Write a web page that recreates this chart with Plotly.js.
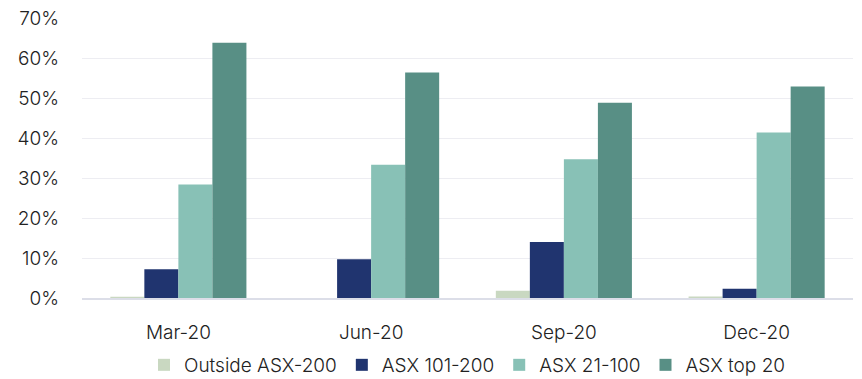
<!DOCTYPE html>
<html>
<head>
<meta charset="utf-8">
<script src="https://cdn.plot.ly/plotly-3.0.1.min.js"></script>
<style>html,body{margin:0;padding:0;background:#fff;}#chart{width:862px;height:379px;}</style>
</head>
<body>
<div id="chart"></div>
<script>
var categories = ["Mar-20", "Jun-20", "Sep-20", "Dec-20"];
var seriesNames = ["Outside ASX-200", "ASX 101-200", "ASX 21-100", "ASX top 20"];
var outsideASX200 = [0.3, 0, 1.8, 0.4];
var asx101to200 = [7.2, 9.7, 14.0, 2.3];
var asx21to100 = [28.4, 33.3, 34.7, 41.4];
var asxTop20 = [63.8, 56.4, 48.8, 52.9];
var colors = ["#c9d8c1", "#20346f", "#88c1b6", "#588f85"];

var values = [outsideASX200, asx101to200, asx21to100, asxTop20];
var traces = values.map(function (v, i) {
  return {
    type: "bar",
    name: seriesNames[i],
    x: categories,
    y: v,
    marker: { color: colors[i], line: { width: 0 } },
    hoverinfo: "skip"
  };
});

var fontFam = "Inter, 'Noto Sans', sans-serif";
var layout = {
  width: 862,
  height: 379,
  margin: { l: 82, r: 9, t: 18, b: 81 },
  paper_bgcolor: "#ffffff",
  plot_bgcolor: "#ffffff",
  font: { family: fontFam, size: 19, color: "#222222", weight: 300 },
  barmode: "group",
  bargap: 0.294,
  bargroupgap: 0,
  showlegend: true,
  legend: {
    orientation: "h",
    x: 0.5,
    xanchor: "center",
    xref: "paper",
    yref: "container",
    y: 0.037,
    yanchor: "middle",
    font: { family: fontFam, size: 19, color: "#222222", weight: 300 },
    itemwidth: 30,
    traceorder: "normal"
  },
  xaxis: {
    type: "category",
    automargin: false,
    showgrid: false,
    showline: true,
    linecolor: "#dcdee8",
    linewidth: 2,
    ticks: "",
    ticklabelstandoff: 16,
    tickfont: { family: fontFam, size: 19, color: "#222222", weight: 300 },
    zeroline: false
  },
  yaxis: {
    automargin: false,
    range: [0, 70],
    dtick: 10,
    ticksuffix: "%",
    showgrid: true,
    gridcolor: "#ededf2",
    gridwidth: 1,
    zeroline: false,
    showline: false,
    ticks: "",
    ticklabelstandoff: 22,
    tickfont: { family: fontFam, size: 19, color: "#222222", weight: 300 }
  }
};

Plotly.newPlot("chart", traces, layout, { displayModeBar: false, staticPlot: true });
</script>
</body>
</html>
